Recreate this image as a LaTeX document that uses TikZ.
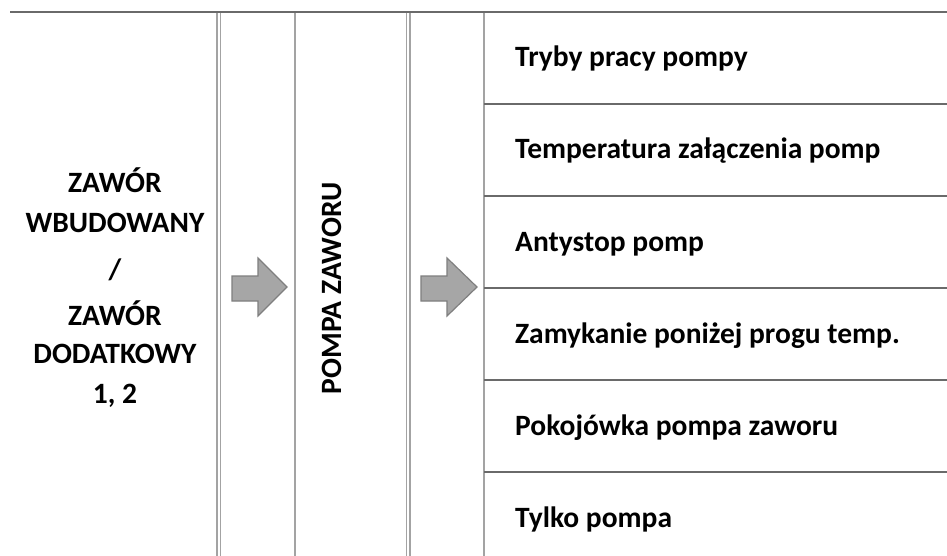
\documentclass[tikz,border=0pt]{standalone}
\usepackage{fontspec}
\setmainfont{Carlito}
\definecolor{darkrule}{HTML}{6A6A6A}
\definecolor{lightrule}{HTML}{A3A3A3}
\definecolor{arrowfill}{HTML}{A6A6A6}
\definecolor{arrowline}{HTML}{7F7F7F}
\begin{document}
\begin{tikzpicture}[x=1pt,y=-1pt,
  darkline/.style={draw=darkrule,line width=2pt},
  lightline/.style={draw=lightrule,line width=1.5pt},
  bigfont/.style={font=\bfseries\fontsize{29.5}{36}\selectfont,inner sep=0pt},
  itemtext/.style={bigfont,anchor=base west},
  lefttext/.style={bigfont,anchor=base},
  bigarrow/.style={fill=arrowfill,draw=arrowline,line width=1.2pt,line join=miter}]
\useasboundingbox (0,0) rectangle (947,556);
\fill[white] (0,0) rectangle (947,556);
% vertical rules
\draw[lightline] (217,12) -- (217,556);
\draw[lightline] (220.5,12) -- (220.5,556);
\draw[lightline] (295,12) -- (295,556);
\draw[lightline] (406.5,12) -- (406.5,556);
\draw[lightline] (410,12) -- (410,556);
\draw[lightline] (484,12) -- (484,556);
% top rule
\draw[darkline] (10,12) -- (947,12);
% row separators
\foreach \yy in {104,196,288,380,472} \draw[darkline] (484,\yy) -- (947,\yy);
% left text
\node[lefttext] (l1) at (115,193) {ZAWÓR};
\node[lefttext] (l2) at (115,233) {WBUDOWANY};
\node[lefttext] (l3) at (115,279) {/};
\node[lefttext] (l4) at (115,325) {ZAWÓR};
\node[lefttext] (l5) at (115,363) {DODATKOWY};
\node[lefttext] (l6) at (115,403) {1, 2};
% rotated text
\node[bigfont,rotate=90] (pump) at (332,288.5) {POMPA ZAWORU};
% arrows
\draw[bigarrow] (232,276) -- (258,276) -- (258,258) -- (287,287) -- (258,316) -- (258,301) -- (232,301) -- cycle;
\draw[bigarrow] (421,276) -- (447,276) -- (447,258) -- (477,287) -- (447,316) -- (447,301) -- (421,301) -- cycle;
% items
\node[itemtext] (i1) at (515,67) {Tryby pracy pompy};
\node[itemtext] (i2) at (515,159) {Temperatura załączenia pomp};
\node[itemtext] (i3) at (515,251) {Antystop pomp};
\node[itemtext] (i4) at (515,343) {Zamykanie poniżej progu temp.};
\node[itemtext] (i5) at (515,435) {Pokojówka pompa zaworu};
\node[itemtext] (i6) at (515,527) {Tylko pompa};
\end{tikzpicture}
\end{document}
